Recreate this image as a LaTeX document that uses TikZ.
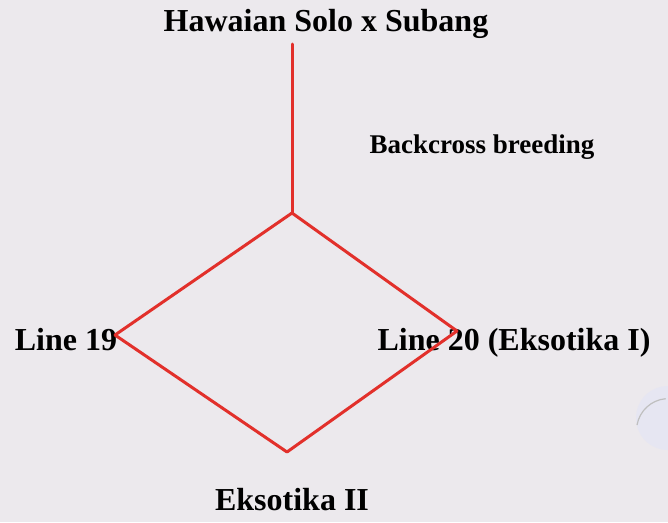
\documentclass[tikz,border=0pt]{standalone}
\usepackage{fontspec}
\setmainfont{Liberation Serif}
\definecolor{paper}{HTML}{ECE9ED}
\definecolor{cross}{HTML}{E2302B}
\definecolor{punch}{HTML}{E6E6F2}
\begin{document}
\begin{tikzpicture}[x=1pt, y=-1pt,
  lbl/.style={inner sep=0pt, anchor=base, font=\bfseries\fontsize{32}{36}\selectfont},
  note/.style={inner sep=0pt, anchor=base, font=\bfseries\fontsize{27}{31}\selectfont},
  link/.style={draw=cross, line width=3pt, line cap=round, line join=miter}]
\fill[paper] (0,0) rectangle (668,522);
\useasboundingbox (0,0) rectangle (668,522);
% hole punch at the right edge
\fill[punch] (668,418) circle (32);
\draw[black!25, line width=1.2pt] (637,425) arc (190:265:32);

\node[lbl] (cross) at (326,31) {Hawaian Solo x Subang};
\node[note] (bc) at (482,153) {Backcross breeding};
\node[lbl] (line19) at (66,350) {Line 19};
\node[lbl] (line20) at (514,350) {Line 20 (Eksotika I)};
\node[lbl] (eks2) at (292,510) {Eksotika II};

\coordinate (start) at (292,44);
\coordinate (top) at (292,213);
\coordinate (left) at (115,335);
\coordinate (right) at (457,331);
\coordinate (bottom) at (287,452);

\draw[link] (start) -- (top);
\draw[link] (top) -- (left);
\draw[link] (top) -- (right);
\draw[link] (left) -- (bottom);
\draw[link] (right) -- (bottom);
\end{tikzpicture}
\end{document}
